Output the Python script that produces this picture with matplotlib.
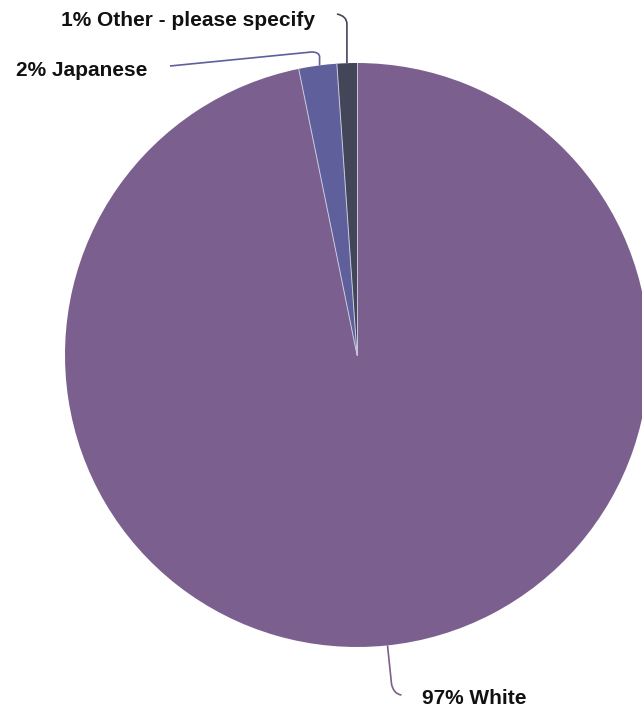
import numpy as np
import matplotlib
matplotlib.use("Agg")
import matplotlib.pyplot as plt
from matplotlib.path import Path
from matplotlib.patches import PathPatch

categories = ["Other - please specify", "Japanese", "White"]
values = [1.1, 2.1, 96.8]
labels_pct = ["1%", "2%", "97%"]
colors = ["#434658", "#5f5f9c", "#7b5f8e"]

W, H = 642, 713
fig = plt.figure(figsize=(W / 100, H / 100), dpi=100)
ax = fig.add_axes([0, 0, 1, 1])

cx, cy, R = 357, H - 355, 292
wedges, _ = ax.pie(values, colors=colors, startangle=90, counterclock=True,
                   center=(cx, cy), radius=R, frame=True,
                   wedgeprops=dict(edgecolor="none", linewidth=0))
ax.set_xlim(0, W)
ax.set_ylim(0, H)
ax.set_aspect("equal")
ax.axis("off")

# thin light separators between slices
for w in wedges:
    a = np.deg2rad(w.theta1)
    ax.plot([cx, cx + R * np.cos(a)], [cy, cy + R * np.sin(a)], color="#c8c8dc", lw=0.7)

def edge_point(w, frac=0.5):
    a = np.deg2rad(w.theta1 + frac * (w.theta2 - w.theta1))
    return cx + R * np.cos(a), cy + R * np.sin(a)

font = dict(fontsize=15, fontweight="bold", family=["Liberation Sans", "DejaVu Sans"], color="#111111")

# Other
x0, y0 = edge_point(wedges[0])
verts = [(x0, y0), (x0, H - 24), (x0, H - 16), (x0 - 10, H - 14)]
ax.add_patch(PathPatch(Path(verts, [Path.MOVETO, Path.LINETO, Path.CURVE3, Path.CURVE3]),
                       fill=False, edgecolor=colors[0], lw=1.2))
ax.text(315, H - 20, f"{labels_pct[0]} {categories[0]}", ha="right", va="center", **font)

# Japanese
x1, y1 = edge_point(wedges[1], 0.45)
verts = [(x1, y1), (x1, H - 57), (x1, H - 52), (x1 - 8, H - 52), (170, H - 66)]
ax.add_patch(PathPatch(Path(verts, [Path.MOVETO, Path.LINETO, Path.CURVE3, Path.CURVE3, Path.LINETO]),
                       fill=False, edgecolor=colors[1], lw=1.2))
ax.text(147, H - 71, f"{labels_pct[1]} {categories[1]}", ha="right", va="center", **font)

# White
x2, y2 = cx + R * np.cos(np.deg2rad(-84)), cy + R * np.sin(np.deg2rad(-84))
verts = [(x2, y2), (x2 + 4, H - 684), (x2 + 6, H - 694), (x2 + 14, H - 695)]
ax.add_patch(PathPatch(Path(verts, [Path.MOVETO, Path.LINETO, Path.CURVE3, Path.CURVE3]),
                       fill=False, edgecolor=colors[2], lw=1.2))
ax.text(422, H - 699, f"{labels_pct[2]} {categories[2]}", ha="left", va="center", **font)

fig.savefig("out.png", dpi=100)
